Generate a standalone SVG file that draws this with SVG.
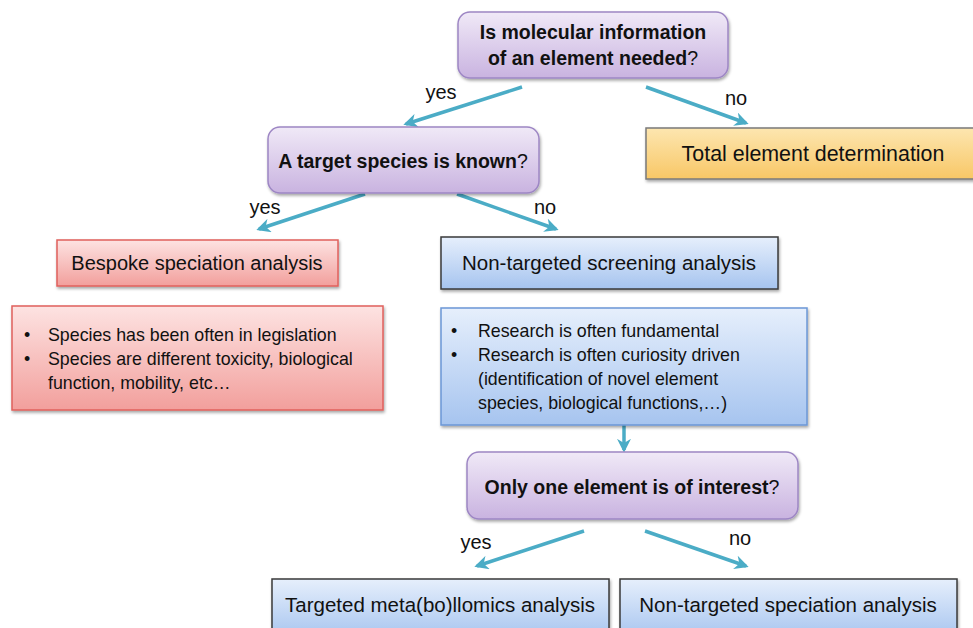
<svg xmlns="http://www.w3.org/2000/svg" width="973" height="628" viewBox="0 0 973 628">
<defs>
<linearGradient id="gPurple" x1="0" y1="0" x2="0" y2="1"><stop offset="0" stop-color="#f0e9f7"/><stop offset="1" stop-color="#c9b3e0"/></linearGradient>
<linearGradient id="gRed" x1="0" y1="0" x2="0" y2="1"><stop offset="0" stop-color="#fde3e2"/><stop offset="1" stop-color="#f29f9c"/></linearGradient>
<linearGradient id="gBlue" x1="0" y1="0" x2="0" y2="1"><stop offset="0" stop-color="#e6effc"/><stop offset="1" stop-color="#a6c4ef"/></linearGradient>
<linearGradient id="gOrange" x1="0" y1="0" x2="0" y2="1"><stop offset="0" stop-color="#fde6b0"/><stop offset="1" stop-color="#f8c766"/></linearGradient>
<filter id="sh" x="-10%" y="-10%" width="120%" height="130%"><feDropShadow dx="1" dy="2" stdDeviation="1.5" flood-color="#000" flood-opacity="0.35"/></filter>
<marker id="ah" viewBox="0 0 10 10" refX="8" refY="5" markerWidth="4" markerHeight="4" orient="auto" markerUnits="strokeWidth"><path d="M0,0 L10,5 L0,10 L3,5 Z" fill="#4bacc6"/></marker>
<style>
.q{fill:url(#gPurple);stroke:#9d86c4;stroke-width:1.5;filter:url(#sh)}
.red{fill:url(#gRed);stroke:#e0605c;stroke-width:1.5;filter:url(#sh)}
.blue{fill:url(#gBlue);stroke:#3a3a3a;stroke-width:1.5;filter:url(#sh)}
.blue2{fill:url(#gBlue);stroke:#6b97d6;stroke-width:1.5;filter:url(#sh)}
.orange{fill:url(#gOrange);stroke:#7a7a7a;stroke-width:1.5;filter:url(#sh)}
text{font-family:"Liberation Sans",Arial,sans-serif;fill:#111}
.qt{font-size:19.5px;font-weight:bold;text-anchor:middle}
.qt tspan.n{font-weight:normal}
.bt{font-size:20.5px;text-anchor:middle}
.li{font-size:17.8px}
.lbl{font-size:20px;fill:#111}
.arr{stroke:#4bacc6;stroke-width:3.5;fill:none;marker-end:url(#ah)}
</style>
</defs>

<g id="connectors">
<line class="arr" x1="522" y1="87" x2="406" y2="124"/>
<line class="arr" x1="646" y1="87" x2="746" y2="123"/>
<line class="arr" x1="365" y1="194" x2="259" y2="229"/>
<line class="arr" x1="457" y1="194" x2="556" y2="229"/>
<line class="arr" x1="624" y1="425" x2="624" y2="450"/>
<line class="arr" x1="584" y1="531" x2="477" y2="566"/>
<line class="arr" x1="645" y1="531" x2="746" y2="566"/>
<text class="lbl" x="441" y="99" text-anchor="middle">yes</text>
<text class="lbl" x="736" y="105" text-anchor="middle">no</text>
<text class="lbl" x="265" y="214" text-anchor="middle">yes</text>
<text class="lbl" x="545" y="214" text-anchor="middle">no</text>
<text class="lbl" x="476" y="549" text-anchor="middle">yes</text>
<text class="lbl" x="740" y="545" text-anchor="middle">no</text>
</g>

<g id="n-molecular">
<rect class="q" x="458" y="12" width="270" height="66" rx="12"/>
<text class="qt" x="593" y="39">Is molecular information</text>
<text class="qt" x="593" y="65">of an element needed<tspan class="n">?</tspan></text>
</g>

<g id="n-total">
<rect class="orange" x="646" y="128" width="340" height="51"/>
<text class="bt" x="813" y="161" style="font-size:21.4px">Total element determination</text>
</g>

<g id="n-target">
<rect class="q" x="268" y="127" width="271" height="66" rx="12"/>
<text class="qt" x="403" y="168">A target species is known<tspan class="n">?</tspan></text>
</g>

<g id="n-bespoke">
<rect class="red" x="57" y="240" width="281" height="46"/>
<text class="bt" x="197" y="270" style="font-size:20px">Bespoke speciation analysis</text>
</g>

<g id="n-bespoke-notes">
<rect class="red" x="12" y="306" width="371" height="104"/>
<text class="li" x="24" y="341">•</text>
<text class="li" x="48" y="341">Species has been often in legislation</text>
<text class="li" x="24" y="365">•</text>
<text class="li" x="48" y="365">Species are different toxicity, biological</text>
<text class="li" x="48" y="389">function, mobility, etc…</text>
</g>

<g id="n-screening">
<rect class="blue" x="441" y="237" width="337" height="52"/>
<text class="bt" x="609" y="270">Non-targeted screening analysis</text>
</g>

<g id="n-screening-notes">
<rect class="blue2" x="441" y="308" width="366" height="117"/>
<text class="li" x="451" y="337">•</text>
<text class="li" x="478" y="337">Research is often fundamental</text>
<text class="li" x="451" y="361">•</text>
<text class="li" x="478" y="361">Research is often curiosity driven</text>
<text class="li" x="478" y="385">(identification of novel element</text>
<text class="li" x="478" y="409">species, biological functions,…)</text>
</g>

<g id="n-one">
<rect class="q" x="467" y="452" width="331" height="67" rx="12"/>
<text class="qt" x="632" y="494">Only one element is of interest<tspan class="n">?</tspan></text>
</g>

<g id="n-targeted">
<rect class="blue" x="272" y="579" width="337" height="60"/>
<text class="bt" x="440" y="612">Targeted meta(bo)llomics analysis</text>
</g>

<g id="n-nonspec">
<rect class="blue" x="620" y="579" width="337" height="60"/>
<text class="bt" x="788" y="612">Non-targeted speciation analysis</text>
</g>
</svg>
